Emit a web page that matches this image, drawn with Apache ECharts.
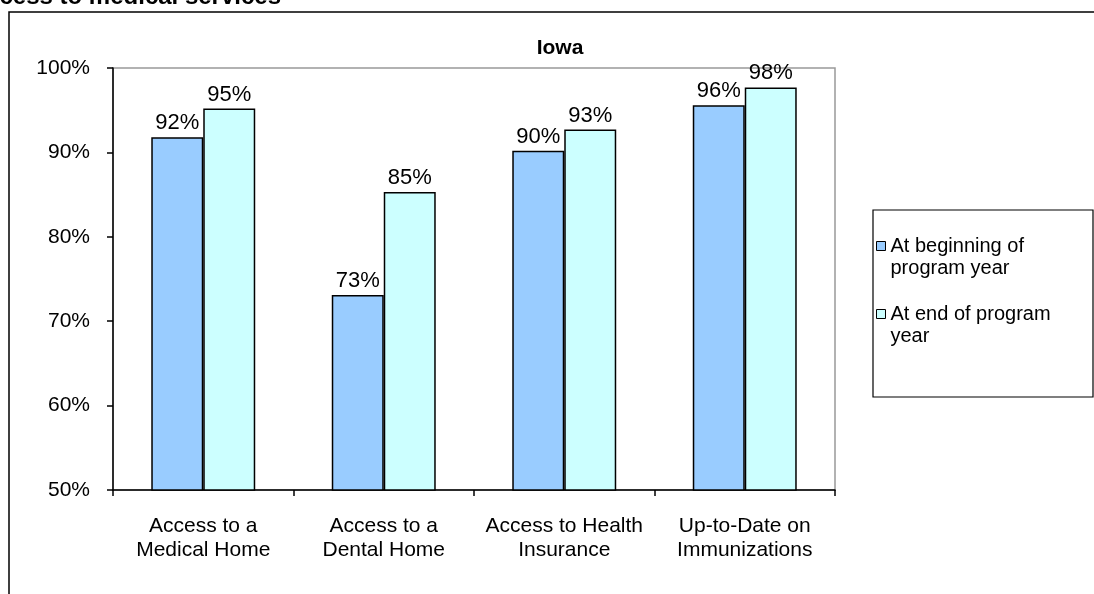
<!DOCTYPE html>
<html>
<head>
<meta charset="utf-8">
<script src="https://cdn.jsdelivr.net/npm/echarts@6/dist/echarts.min.js"></script>
<style>
html,body{margin:0;padding:0;background:#fff;}
#chart{width:1094px;height:594px;}
</style>
</head>
<body>
<div id="chart"></div>
<script>
const categories = ['Access to a\nMedical Home', 'Access to a\nDental Home', 'Access to Health\nInsurance', 'Up-to-Date on\nImmunizations'];
const seriesNames = ['At beginning of program year', 'At end of program year'];
const legendLabels = [' \nAt beginning of\nprogram year', ' \nAt end of program\nyear'];
const beginValues = [91.8, 73.1, 90.2, 95.6];
const endValues = [95.2, 85.3, 92.7, 97.7];
const yTicks = [50, 60, 70, 80, 90, 100];

const FONT = '"Liberation Sans", Arial, sans-serif';
const chart = echarts.init(document.getElementById('chart'));

const labelCfg = {
  show: true, position: 'top', distance: 3,
  color: '#000', fontFamily: FONT, fontSize: 22,
  formatter: p => Math.round(p.value) + '%'
};

chart.setOption({
  animation: false,
  backgroundColor: '#fff',
  title: {
    text: 'Iowa', left: 555, top: 33, textAlign: 'center',
    textStyle: { fontFamily: FONT, fontSize: 21, fontWeight: 'bold', color: '#000' }
  },
  graphic: [
    { type: 'rect', shape: { x: 9, y: 12, width: 1100, height: 620 },
      style: { fill: 'none', stroke: '#000', lineWidth: 1.5 }, silent: true },
    { type: 'text', x: 281, y: 9,
      style: { text: 'Access to medical services', textAlign: 'right', textVerticalAlign: 'bottom',
        font: 'bold 24px "Liberation Sans", Arial, sans-serif', fill: '#000' } },
    { type: 'rect', shape: { x: 873, y: 210, width: 220, height: 187 },
      style: { fill: '#fff', stroke: '#000', lineWidth: 1.2 }, silent: true, z: 1 }
  ],
  legend: {
    orient: 'vertical', left: 876, top: 213, padding: 0,
    itemWidth: 9, itemHeight: 9, itemGap: 2,
    icon: 'rect',
    z: 5,
    formatter: name => legendLabels[seriesNames.indexOf(name)],
    textStyle: { fontFamily: FONT, fontSize: 20, color: '#000', lineHeight: 22 },
    itemStyle: { borderColor: '#000', borderWidth: 1 }
  },
  grid: {
    left: 113, right: 259, top: 68, bottom: 104,
    show: true, borderColor: '#999', borderWidth: 1.5, backgroundColor: '#fff'
  },
  xAxis: {
    type: 'category', data: categories,
    axisLine: { lineStyle: { color: '#000', width: 1.5 } },
    axisTick: { show: true, length: 6, alignWithLabel: false, lineStyle: { color: '#000', width: 1.5 } },
    axisLabel: { color: '#000', fontFamily: FONT, fontSize: 21, lineHeight: 24, margin: 24, interval: 0 }
  },
  yAxis: {
    type: 'value', min: 50, max: 100, interval: 10,
    splitLine: { show: false },
    axisLine: { show: true, lineStyle: { color: '#000', width: 1.5 } },
    axisTick: { show: true, length: 6, inside: false, lineStyle: { color: '#000', width: 1.5 } },
    axisLabel: { color: '#000', fontFamily: FONT, fontSize: 21, margin: 23,
      formatter: v => yTicks.includes(v) ? v + '%' : '' }
  },
  series: [
    { name: seriesNames[0], type: 'bar', data: beginValues, barWidth: '28.8%', barGap: '0%',
      itemStyle: { color: '#99CCFF', borderColor: '#000', borderWidth: 1.5 }, label: labelCfg },
    { name: seriesNames[1], type: 'bar', data: endValues, barWidth: '28.8%',
      itemStyle: { color: '#CCFFFF', borderColor: '#000', borderWidth: 1.5 }, label: labelCfg }
  ]
});
</script>
</body>
</html>
